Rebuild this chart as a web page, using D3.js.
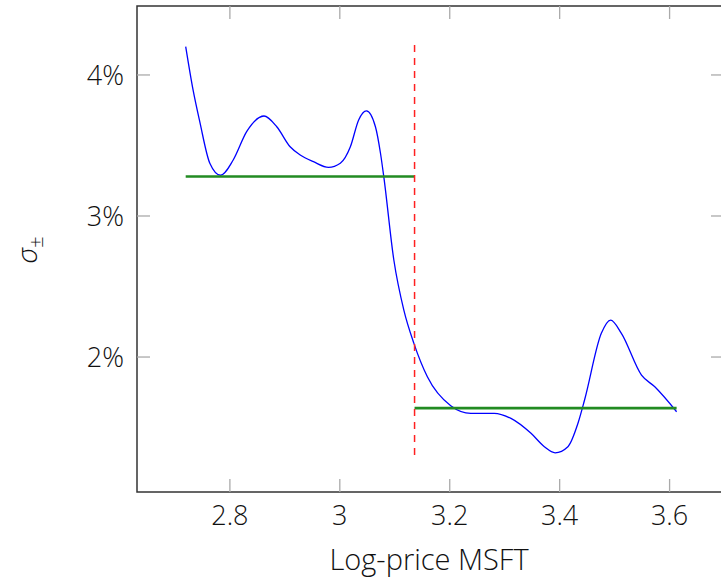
<!DOCTYPE html>
<html>
<head>
<meta charset="utf-8">
<script src="https://cdn.jsdelivr.net/npm/d3@7"></script>
<style>
  body { margin: 0; background: #fff; }
  text { font-family: "Open Sans", sans-serif; font-weight: 300; fill: #111; }
</style>
</head>
<body>
<svg id="chart" width="721" height="578"></svg>
<script>
// log-price vs sigma (percent)
var logPrice = [2.7196, 2.733, 2.7452, 2.7635, 2.783, 2.806, 2.8305, 2.8621, 2.8853, 2.9096, 2.9279, 2.9521,
                2.9795, 3.0009, 3.0192, 3.0343, 3.0484, 3.0648, 3.074, 3.08, 3.0983, 3.1165, 3.1348, 3.1593,
                3.2018, 3.2384, 3.2809, 3.3114, 3.3479, 3.3722, 3.3918, 3.415, 3.4333, 3.4453, 3.4758, 3.4928,
                3.5123, 3.5489, 3.5731, 3.6128];
var sigma = [4.201, 3.894, 3.669, 3.374, 3.289, 3.397, 3.598, 3.709, 3.633, 3.491, 3.433, 3.385,
             3.345, 3.374, 3.491, 3.681, 3.745, 3.633, 3.445, 3.279, 2.688, 2.333, 2.097, 1.86,
             1.655, 1.601, 1.601, 1.565, 1.459, 1.364, 1.321, 1.364, 1.53, 1.695, 2.168, 2.262,
             2.168, 1.872, 1.789, 1.612];

// two regimes split at the red line
var splitAt = 3.136;
var regimes = [
  {from: 2.7196, to: 3.136, level: 3.28},
  {from: 3.136, to: 3.6128, level: 1.638}
];
var splitRange = [1.305, 4.213];

var xTicks = [2.8, 3, 3.2, 3.4, 3.6];
var yTicks = [2, 3, 4];

var svg = d3.select("#chart");
var mLeft = 137, mTop = 6, mRight = 724, mBottom = 492;

var x = d3.scaleLinear().domain([2.631, 3.699]).range([mLeft, mRight]);
var y = d3.scaleLinear().domain([1.043, 4.489]).range([mBottom, mTop]);

// frame
svg.append("rect")
  .attr("x", mLeft).attr("y", mTop)
  .attr("width", mRight - mLeft).attr("height", mBottom - mTop)
  .attr("fill", "none").attr("stroke", "#333").attr("stroke-width", 1.5);

// ticks (inside, all four sides)
var tl = 13;
xTicks.forEach(function (t) {
  svg.append("line").attr("x1", x(t)).attr("x2", x(t)).attr("y1", mBottom).attr("y2", mBottom - tl)
    .attr("stroke", "#aaa").attr("stroke-width", 1.3);
  svg.append("line").attr("x1", x(t)).attr("x2", x(t)).attr("y1", mTop).attr("y2", mTop + tl)
    .attr("stroke", "#aaa").attr("stroke-width", 1.3);
  svg.append("text").attr("x", x(t)).attr("y", 525)
    .attr("text-anchor", "middle").style("font-size", "27px")
    .text(d3.format("")(t));
});
yTicks.forEach(function (t) {
  svg.append("line").attr("x1", mLeft).attr("x2", mLeft + tl).attr("y1", y(t)).attr("y2", y(t))
    .attr("stroke", "#aaa").attr("stroke-width", 1.3);
  svg.append("line").attr("x1", mRight).attr("x2", mRight - tl).attr("y1", y(t)).attr("y2", y(t))
    .attr("stroke", "#aaa").attr("stroke-width", 1.3);
  svg.append("text").attr("x", 124).attr("y", y(t) + 10)
    .attr("text-anchor", "end").style("font-size", "27px")
    .text(t + "%");
});

// axis labels
svg.append("text").attr("x", 429).attr("y", 570)
  .attr("text-anchor", "middle").style("font-size", "29px")
  .text("Log-price MSFT");

var yl = svg.append("text")
  .attr("transform", "translate(37,250) rotate(-90)")
  .attr("text-anchor", "middle").style("font-size", "28px");
yl.append("tspan").style("font-style", "italic").text("σ");
yl.append("tspan").attr("dy", 6).style("font-size", "20px").text("±");

// curve
var pts = logPrice.map(function (d, i) { return [d, sigma[i]]; });
var line = d3.line()
  .x(function (d) { return x(d[0]); })
  .y(function (d) { return y(d[1]); })
  .curve(d3.curveMonotoneX);
svg.append("path").datum(pts).attr("d", line)
  .attr("fill", "none").attr("stroke", "#0000ff").attr("stroke-width", 1.3);

// regime levels
svg.selectAll(".regime").data(regimes).enter().append("line")
  .attr("x1", function (d) { return x(d.from); })
  .attr("x2", function (d) { return x(d.to); })
  .attr("y1", function (d) { return y(d.level); })
  .attr("y2", function (d) { return y(d.level); })
  .attr("stroke", "#228b22").attr("stroke-width", 2.6);

// split line
svg.append("line")
  .attr("x1", x(splitAt)).attr("x2", x(splitAt))
  .attr("y1", y(splitRange[1])).attr("y2", y(splitRange[0]))
  .attr("stroke", "#ff2020").attr("stroke-width", 1.5)
  .attr("stroke-dasharray", "7,6");
</script>
</body>
</html>
